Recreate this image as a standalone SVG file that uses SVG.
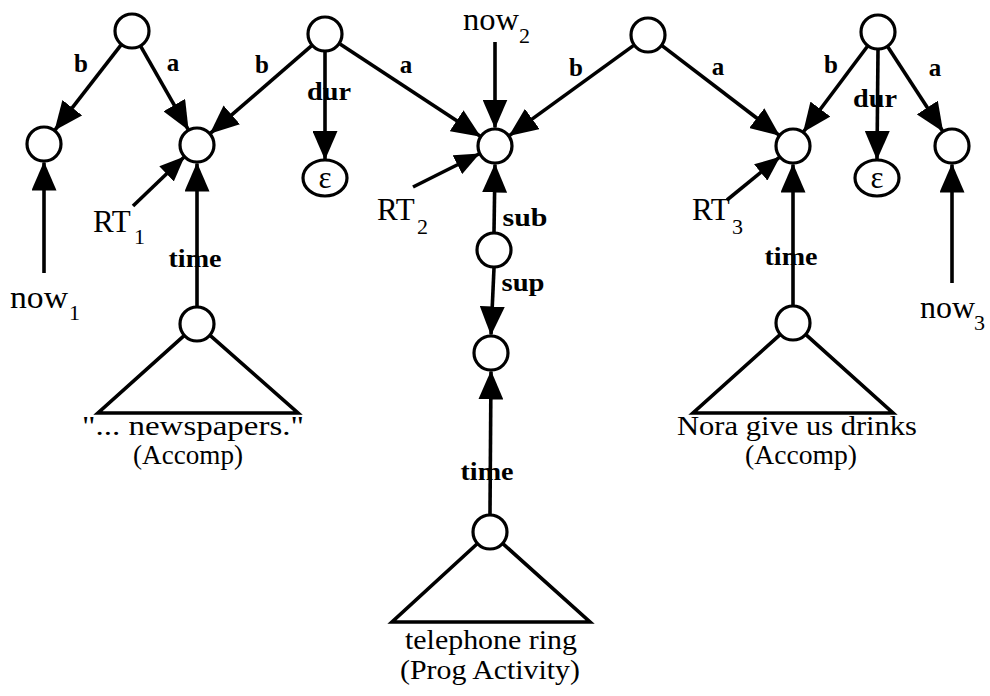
<svg xmlns="http://www.w3.org/2000/svg" width="990" height="696" viewBox="0 0 990 696">
  <defs>
    <marker id="ah" viewBox="0 0 29 25" refX="28" refY="12.5" markerWidth="29" markerHeight="25" orient="auto" markerUnits="userSpaceOnUse">
      <path d="M0,0 L29,12.5 L0,25 z" fill="#000"/>
    </marker>
    <marker id="ahs" viewBox="0 0 25 21" refX="24" refY="10.5" markerWidth="25" markerHeight="21" orient="auto" markerUnits="userSpaceOnUse">
      <path d="M0,0 L25,10.5 L0,21 z" fill="#000"/>
    </marker>
    <style>
      .node { fill: #fff; stroke: #000; stroke-width: 3.2; }
      .edge { fill: none; stroke: #000; stroke-width: 3.6; marker-end: url(#ah); }
      .ptr { fill: none; stroke: #000; stroke-width: 3.6; marker-end: url(#ahs); }
      .tri { fill: none; stroke: #000; stroke-width: 3.6; stroke-linejoin: miter; }
      .lbl { font-family: "Liberation Serif", "Times New Roman", serif; font-weight: bold; font-size: 25px; fill: #000; text-anchor: middle; }
      .big { font-family: "Liberation Serif", "Times New Roman", serif; font-size: 31px; fill: #000; }
      .sub { font-family: "Liberation Serif", "Times New Roman", serif; font-size: 22px; fill: #000; }
      .cap { font-family: "Liberation Serif", "Times New Roman", serif; font-size: 28px; fill: #000; text-anchor: middle; }
      .eps { font-family: "Liberation Serif", "DejaVu Serif", serif; font-size: 31px; fill: #000; text-anchor: middle; }
    </style>
  </defs>
  <rect width="990" height="696" fill="#fff"/>

  <!-- connectors -->
  <g id="connectors">
    <line class="edge" x1="120.9" y1="45.2" x2="55.1" y2="129.8"/>
    <line class="edge" x1="140.9" y1="46.6" x2="188.1" y2="129.4"/>
    <line class="edge" x1="311.4" y1="45.8" x2="210.6" y2="133.2"/>
    <line class="edge" x1="325" y1="52" x2="325" y2="159"/>
    <line class="edge" x1="340" y1="43.9" x2="480" y2="136.1"/>
    <line class="edge" x1="633.4" y1="45.6" x2="509.6" y2="135.4"/>
    <line class="edge" x1="662.3" y1="45.9" x2="779" y2="135.1"/>
    <line class="edge" x1="867.3" y1="46.5" x2="803.7" y2="131.5"/>
    <line class="edge" x1="878" y1="50" x2="877" y2="159"/>
    <line class="edge" x1="887.9" y1="47" x2="942.6" y2="131"/>

    <line class="edge" x1="495" y1="42" x2="495" y2="127.5"/>
    <line class="edge" x1="44" y1="273" x2="44" y2="162.5"/>
    <line class="edge" x1="952" y1="283" x2="952" y2="164.5"/>
    <line class="edge" x1="197" y1="306" x2="197" y2="163.5"/>
    <line class="edge" x1="793" y1="306" x2="793" y2="164.5"/>
    <line class="edge" x1="494" y1="232" x2="495" y2="164.5"/>
    <line class="edge" x1="494" y1="268" x2="491" y2="334.5"/>
    <line class="edge" x1="490" y1="514" x2="491" y2="371.5"/>

    <line class="ptr" x1="133" y1="206" x2="183.9" y2="157.3"/>
    <line class="ptr" x1="413" y1="187" x2="478.9" y2="154"/>
    <line class="ptr" x1="727" y1="200" x2="779.3" y2="157.3"/>

    <text class="lbl" x="81" y="72">b</text>
    <text class="lbl" x="173" y="71">a</text>
    <text class="lbl" x="262" y="73">b</text>
    <text class="lbl" x="329" y="100" textLength="44" lengthAdjust="spacingAndGlyphs">dur</text>
    <text class="lbl" x="406" y="73">a</text>
    <text class="lbl" x="576" y="76">b</text>
    <text class="lbl" x="718" y="75">a</text>
    <text class="lbl" x="831" y="73">b</text>
    <text class="lbl" x="875" y="107" textLength="44" lengthAdjust="spacingAndGlyphs">dur</text>
    <text class="lbl" x="935" y="76">a</text>
    <text class="lbl" x="195" y="267" textLength="53" lengthAdjust="spacingAndGlyphs">time</text>
    <text class="lbl" x="791" y="265" textLength="53" lengthAdjust="spacingAndGlyphs">time</text>
    <text class="lbl" x="487" y="480" textLength="53" lengthAdjust="spacingAndGlyphs">time</text>
    <text class="lbl" x="525" y="226" textLength="45" lengthAdjust="spacingAndGlyphs">sub</text>
    <text class="lbl" x="523" y="291" textLength="43" lengthAdjust="spacingAndGlyphs">sup</text>
  </g>

  <!-- upper nodes -->
  <g id="root1"><circle class="node" cx="132" cy="31" r="17"/></g>
  <g id="root2"><circle class="node" cx="325" cy="34" r="17"/></g>
  <g id="root3"><circle class="node" cx="648" cy="35" r="17"/></g>
  <g id="root4"><circle class="node" cx="878" cy="32" r="17"/></g>

  <g id="now1-node"><circle class="node" cx="44" cy="144" r="17"/></g>
  <g id="rt1-node"><circle class="node" cx="197" cy="145" r="17"/></g>
  <g id="eps1"><ellipse class="node" cx="325" cy="178" rx="22" ry="18"/><text class="eps" x="325" y="188">ε</text></g>
  <g id="rt2-node"><circle class="node" cx="495" cy="146" r="17"/></g>
  <g id="rt3-node"><circle class="node" cx="793" cy="146" r="17"/></g>
  <g id="eps2"><ellipse class="node" cx="877" cy="178" rx="22" ry="18"/><text class="eps" x="877" y="188">ε</text></g>
  <g id="now3-node"><circle class="node" cx="952" cy="146" r="17"/></g>

  <g id="sub-node"><circle class="node" cx="494" cy="250" r="17"/></g>
  <g id="sup-node"><circle class="node" cx="491" cy="353" r="17"/></g>

  <!-- pointer labels -->
  <g id="now1"><text class="big" x="10" y="308" textLength="58" lengthAdjust="spacingAndGlyphs">now</text><text class="sub" x="69" y="320">1</text></g>
  <g id="now2"><text class="big" x="463" y="30" textLength="56" lengthAdjust="spacingAndGlyphs">now</text><text class="sub" x="519" y="43">2</text></g>
  <g id="now3"><text class="big" x="920" y="318" textLength="55" lengthAdjust="spacingAndGlyphs">now</text><text class="sub" x="974" y="330">3</text></g>
  <g id="rt1"><text class="big" x="93" y="232">RT</text><text class="sub" x="134" y="244">1</text></g>
  <g id="rt2"><text class="big" x="377" y="220">RT</text><text class="sub" x="417" y="234">2</text></g>
  <g id="rt3"><text class="big" x="692" y="220">RT</text><text class="sub" x="732" y="234">3</text></g>

  <!-- event subtrees -->
  <g id="event-newspapers">
    <circle class="node" cx="197" cy="324" r="17"/>
    <path class="tri" d="M184.4,335.4 L98,413 L298,413 L209.8,335.2"/>
    <text class="cap" x="193" y="435" textLength="222" lengthAdjust="spacingAndGlyphs">"...  newspapers."</text>
    <text class="cap" x="188" y="464" textLength="110" lengthAdjust="spacingAndGlyphs">(Accomp)</text>
  </g>
  <g id="event-telephone">
    <circle class="node" cx="490" cy="532" r="17"/>
    <path class="tri" d="M477.5,543.5 L392,622 L590,622 L502.6,543.4"/>
    <text class="cap" x="491" y="649" textLength="172" lengthAdjust="spacingAndGlyphs">telephone ring</text>
    <text class="cap" x="490" y="679" textLength="180" lengthAdjust="spacingAndGlyphs">(Prog Activity)</text>
  </g>
  <g id="event-drinks">
    <circle class="node" cx="793" cy="323" r="17"/>
    <path class="tri" d="M780.4,334.4 L693,413 L893,413 L805.6,334.4"/>
    <text class="cap" x="797" y="435" textLength="240" lengthAdjust="spacingAndGlyphs">Nora give us drinks</text>
    <text class="cap" x="801" y="464" textLength="112" lengthAdjust="spacingAndGlyphs">(Accomp)</text>
  </g>
</svg>
